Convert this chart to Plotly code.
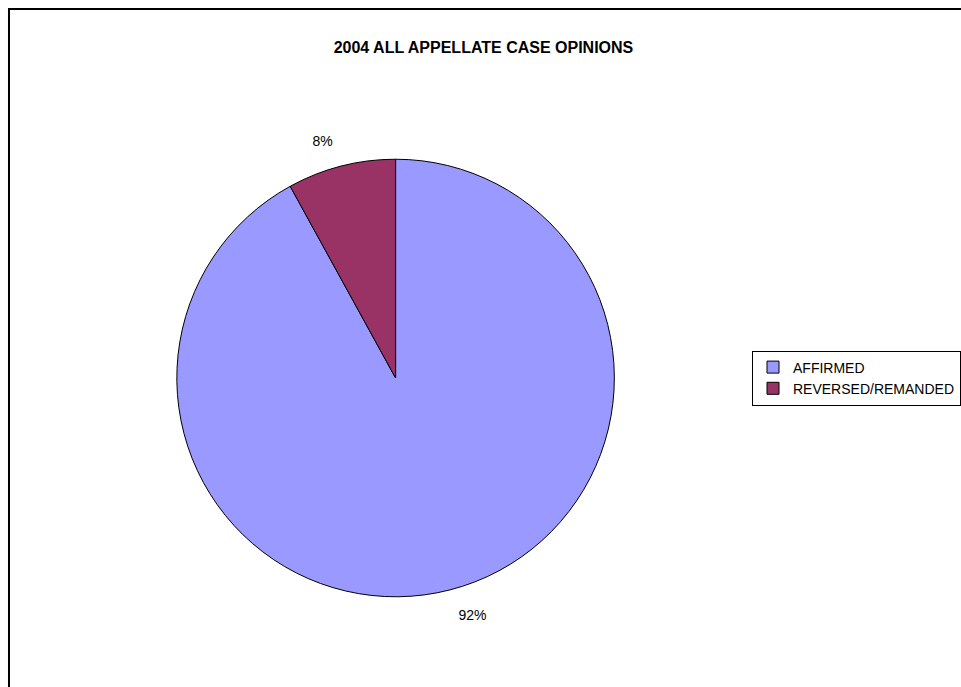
import plotly.graph_objects as go

# Appellate case outcomes, 2004 (percent of all opinions)
outcomes = ["AFFIRMED", "REVERSED/REMANDED"]
shares = [92, 8]
slice_colors = ["#9999FF", "#993366"]

W, H = 961, 687

# pie placement in pixels (centre and radius), converted to a paper domain
cx, cy, r = 396, 378, 219
dom_x = [(cx - r) / W, (cx + r) / W]
dom_y = [(H - cy - r) / H, (H - cy + r) / H]

fig = go.Figure(
    go.Pie(
        labels=outcomes,
        values=shares,
        sort=False,
        direction="clockwise",
        rotation=0,
        marker=dict(colors=slice_colors, line=dict(color="black", width=1)),
        textinfo="percent",
        # a blank line on the pie side keeps each label clear of the rim
        texttemplate=[" <br>%{percent:.0%}", "%{percent:.0%}<br> "],
        textposition="outside",
        outsidetextfont=dict(family="Liberation Sans, Arial", size=14, color="black"),
        automargin=False,
        domain=dict(x=dom_x, y=dom_y),
        hoverinfo="label+percent",
    )
)

fig.update_layout(
    width=W,
    height=H,
    margin=dict(l=0, r=0, t=0, b=0),
    paper_bgcolor="white",
    plot_bgcolor="white",
    font=dict(family="Liberation Sans, Arial", color="black"),
    title=dict(
        text="<b>2004 ALL APPELLATE CASE OPINIONS</b>",
        font=dict(family="Liberation Sans, Arial", size=16, color="black"),
        x=484 / W,
        xanchor="center",
        y=1 - 47 / H,
        yanchor="middle",
        xref="paper",
        yref="container",
    ),
    legend=dict(
        x=753 / W,
        xanchor="left",
        y=1 - 378 / H,
        yanchor="middle",
        bordercolor="black",
        borderwidth=1,
        bgcolor="white",
        font=dict(family="Liberation Sans, Arial", size=14, color="black"),
        tracegroupgap=0,
    ),
    showlegend=True,
    shapes=[
        # chart frame, open to the right and bottom edges of the page
        dict(
            type="rect",
            xref="paper",
            yref="paper",
            x0=9 / W,
            x1=1.05,
            y0=-0.05,
            y1=1 - 9 / H,
            line=dict(color="black", width=2),
            fillcolor="rgba(0,0,0,0)",
        )
    ],
)

fig.write_html("out.html")
